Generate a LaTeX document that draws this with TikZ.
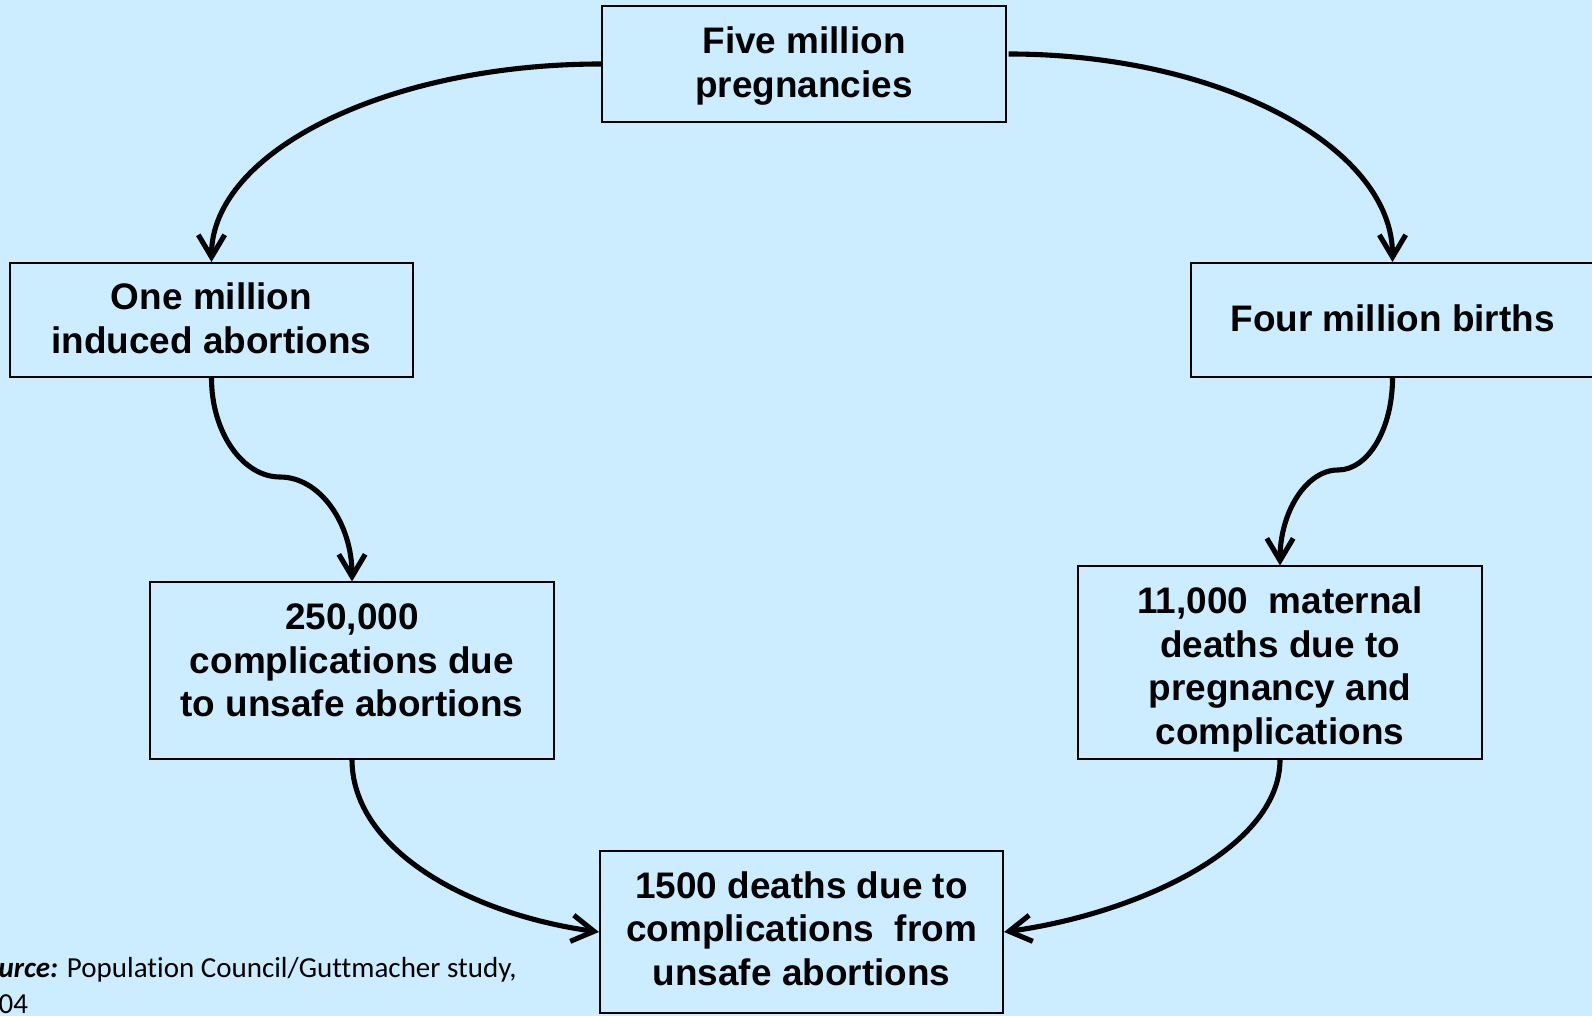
\documentclass[tikz,border=0pt]{standalone}
\usepackage[dvipsnames]{xcolor}
\usepackage{fontspec}
\setmainfont{Liberation Sans}
\newfontfamily\srcfont[Ligatures=NoCommon]{Carlito}
\usetikzlibrary{arrows.meta}
\definecolor{SkyBg}{RGB}{204,236,255}

\begin{document}
\begin{tikzpicture}[x=0.01cm, y=-0.01cm,
	box/.style={draw=black, line width=0.55pt, fill=SkyBg, align=center, inner sep=0pt,
		minimum width=4.03cm, font=\fontsize{10.5}{12.4}\selectfont\bfseries},
	flow/.style={black, line width=1.45pt,
		-{Straight Barb[length=6.3pt, width=7.5pt, line width=1.45pt]}}]
	\useasboundingbox (0,0) rectangle (1592,1016);
	\fill[SkyBg] (0,0) rectangle (1592,1016);

	% the six boxes
	\node[box, minimum height=1.16cm, text depth=0.04cm] (five) at (804,64) {Five million\\pregnancies};
	\node[box, minimum height=1.14cm, text depth=0.04cm] (one) at (211.5,320) {One million\\induced abortions};
	\node[box, minimum height=1.14cm, text depth=0.04cm] (four) at (1392.5,320) {Four million births};
	\node[box, minimum height=1.76cm, text depth=0.2cm] (comp) at (352,670.5) {250,000\\complications due\\to unsafe abortions};
	\node[box, minimum height=1.92cm, text depth=0cm] (mat) at (1280,662.5) {\rule{0pt}{9.4pt}11,000\ \ maternal\\deaths due to\\pregnancy and\\complications};
	\node[box, minimum height=1.62cm, text depth=0.07cm] (deaths) at (801.5,932) {1500 deaths due to\\complications\ \ from\\unsafe abortions};

	\node[anchor=north west, align=left, inner sep=0pt,
		font=\srcfont\fontsize{8.25}{10.2}\selectfont] (src) at (-2,957)
		{\textbf{\textit{urce:}} Population Council/Guttmacher study,\\04};

	% bends of the two s-curves
	\coordinate (lbend) at (280,477);
	\coordinate (rbend) at (1338,470);

	\draw[flow] (five.west) .. controls +(-215,0) and +(0,-110) .. (one.north);
	\draw[flow] ([shift={(2,-10)}]five.east) .. controls +(212,0) and +(0,-115) .. (four.north);

	\draw[flow] (one.south) .. controls +(0,55) and +(-37,0) .. (lbend)
		.. controls +(40,0) and +(0,-58) .. (comp.north);
	\draw[flow] (four.south) .. controls +(0,51) and +(30,0) .. (rbend)
		.. controls +(-32,0) and +(0,-53) .. (mat.north);

	\draw[flow] (comp.south) .. controls +(0,90) and +(-130,-18) .. (deaths.west);
	\draw[flow] (mat.south) .. controls +(0,90) and +(130,-18) .. (deaths.east);
\end{tikzpicture}
\end{document}
